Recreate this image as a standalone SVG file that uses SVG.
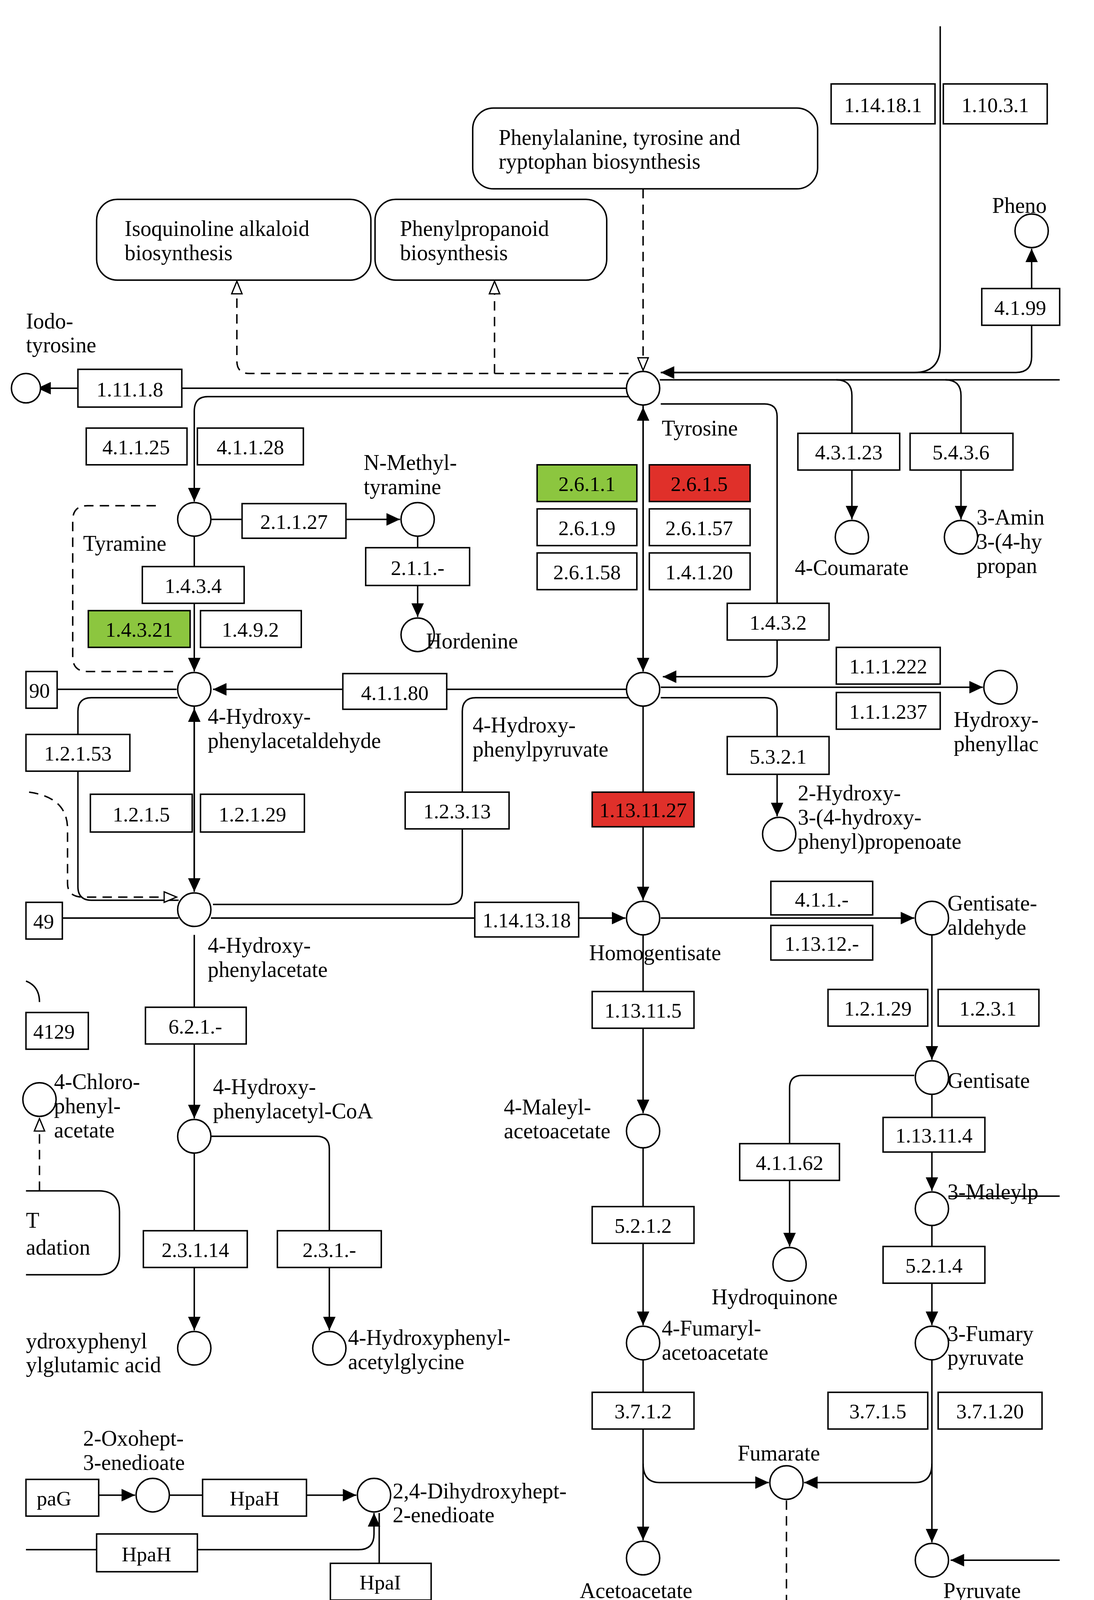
<svg xmlns="http://www.w3.org/2000/svg" width="2800" height="4168" viewBox="0 0 2800 4168">
<style>
.b{fill:#fff;stroke:#000;stroke-width:1.4}
.g{fill:#8cc63f;stroke:#000;stroke-width:1.4}
.r{fill:#e0302a;stroke:#000;stroke-width:1.4}
.c{fill:#fff;stroke:#000;stroke-width:1.4}
.l{fill:none;stroke:#000;stroke-width:1.4}
.d{fill:none;stroke:#000;stroke-width:1.4;stroke-dasharray:9,6}
.m{fill:#fff;stroke:#000;stroke-width:1.4}
text{font-family:"Liberation Serif",serif;font-size:21px;fill:#000}
.t{text-anchor:middle;font-size:20px}
</style>
<defs>
<marker id="a" markerUnits="userSpaceOnUse" markerWidth="14" markerHeight="12" refX="13" refY="6" orient="auto"><path d="M0,0L13,6L0,12z" fill="#000"/></marker>
<marker id="o" markerUnits="userSpaceOnUse" markerWidth="14" markerHeight="12" refX="13" refY="6" orient="auto"><path d="M1,1L13,6L1,11z" fill="#fff" stroke="#000" stroke-width="1.2"/></marker>
</defs>
<rect width="2800" height="4168" fill="#fff"/>
<g transform="scale(2.659 2.686)">
<g id="connectors">
<path class="l" d="M905,25V330Q905,355 880,355H636" marker-end="url(#a)"/>
<path class="l" d="M993,310V340Q993,355 978,355H636"/>
<path class="l" d="M993,275V237" marker-end="url(#a)"/>
<path class="d" d="M619,180V353" marker-end="url(#o)"/>
<path class="d" d="M605,356H240Q228,356 228,344V268" marker-end="url(#o)"/>
<path class="d" d="M476,356V268" marker-end="url(#o)"/>
<path class="l" d="M603,370H36" marker-end="url(#a)"/>
<path class="l" d="M635,362H1020"/>
<path class="l" d="M605,378H200Q187,378 187,392V478" marker-end="url(#a)"/>
<path class="l" d="M203,495H385" marker-end="url(#a)"/>
<path class="l" d="M402,511V588" marker-end="url(#a)"/>
<path class="d" d="M150,482H84Q70,482 70,496V626Q70,640 84,640H172"/>
<path class="l" d="M187,511V640" marker-end="url(#a)"/>
<path class="l" d="M55,657H170"/>
<path class="l" d="M603,657H205" marker-end="url(#a)"/>
<path class="l" d="M619,386V640" marker-end="url(#a)"/>
<path class="l" d="M619,640V388" marker-end="url(#a)"/>
<path class="l" d="M636,385H736Q748,385 748,397V633Q748,645 736,645H638" marker-end="url(#a)"/>
<path class="l" d="M805,362Q820,362 820,377V495" marker-end="url(#a)"/>
<path class="l" d="M910,362Q925,362 925,377V495" marker-end="url(#a)"/>
<path class="l" d="M636,655H946" marker-end="url(#a)"/>
<path class="l" d="M636,665H736Q748,665 748,677V778" marker-end="url(#a)"/>
<path class="l" d="M605,665H458Q445,665 445,678V850Q445,862 432,862H205"/>
<path class="l" d="M187,673V850" marker-end="url(#a)"/>
<path class="l" d="M187,850V675" marker-end="url(#a)"/>
<path class="l" d="M171,665H88Q75,665 75,678V845Q75,858 88,858H172"/>
<path class="d" d="M28,755Q65,760 65,790V842Q65,855 80,855H170" marker-end="url(#o)"/>
<path class="l" d="M60,875H172"/>
<path class="l" d="M203,875H602" marker-end="url(#a)"/>
<path class="l" d="M619,673V858" marker-end="url(#a)"/>
<path class="l" d="M636,875H880" marker-end="url(#a)"/>
<path class="l" d="M897,891V1010" marker-end="url(#a)"/>
<path class="l" d="M619,891V1061" marker-end="url(#a)"/>
<path class="l" d="M880,1025H772Q760,1025 760,1037V1188" marker-end="url(#a)"/>
<path class="l" d="M897,1043V1135" marker-end="url(#a)"/>
<path class="l" d="M913,1140H1020"/>
<path class="l" d="M897,1168V1263" marker-end="url(#a)"/>
<path class="l" d="M619,1094V1263" marker-end="url(#a)"/>
<path class="l" d="M619,1296V1468" marker-end="url(#a)"/>
<path class="l" d="M619,1395Q619,1413 635,1413H740" marker-end="url(#a)"/>
<path class="l" d="M897,1296V1470" marker-end="url(#a)"/>
<path class="l" d="M897,1395Q897,1413 881,1413H774" marker-end="url(#a)"/>
<path class="d" d="M757,1430V1552"/>
<path class="l" d="M1020,1487H915" marker-end="url(#a)"/>
<path class="l" d="M187,891V1066" marker-end="url(#a)"/>
<path class="d" d="M38,1135V1066" marker-end="url(#o)"/>
<path class="l" d="M187,1099V1268" marker-end="url(#a)"/>
<path class="l" d="M203,1083H305Q317,1083 317,1095V1268" marker-end="url(#a)"/>
<path class="l" d="M95,1425H130" marker-end="url(#a)"/>
<path class="l" d="M163,1425H343" marker-end="url(#a)"/>
<path class="l" d="M25,1477H345Q360,1477 360,1462V1442" marker-end="url(#a)"/>
<path class="l" d="M365,1442V1540M355,1540H375"/>
</g>
<g id="maps">
<rect class="b" x="455" y="103" width="332" height="77" rx="20"/>
<text x="480" y="138">Phenylalanine, tyrosine and</text><text x="480" y="161">ryptophan biosynthesis</text>
<rect class="b" x="93" y="190" width="264" height="77" rx="20"/>
<text x="120" y="225">Isoquinoline alkaloid</text><text x="120" y="248">biosynthesis</text>
<rect class="b" x="361" y="190" width="223" height="77" rx="20"/>
<text x="385" y="225">Phenylpropanoid</text><text x="385" y="248">biosynthesis</text>
<path class="b" d="M25,1135H95Q115,1135 115,1155V1195Q115,1215 95,1215H25"/>
<text x="25" y="1170">T</text><text x="25" y="1196">adation</text>
<path class="l" d="M25,935Q38,940 38,955"/>
</g>
<g id="enzymes">
<rect class="b" x="800" y="80" width="100" height="38"/><text class="t" x="850" y="107">1.14.18.1</text>
<rect class="b" x="908" y="80" width="100" height="38"/><text class="t" x="958" y="107">1.10.3.1</text>
<rect class="b" x="945" y="275" width="75" height="35"/><text class="t" x="982" y="300">4.1.99</text>
<rect class="b" x="75" y="352" width="100" height="36"/><text class="t" x="125" y="378">1.11.1.8</text>
<rect class="b" x="83" y="408" width="97" height="35"/><text class="t" x="131" y="433">4.1.1.25</text>
<rect class="b" x="190" y="408" width="102" height="35"/><text class="t" x="241" y="433">4.1.1.28</text>
<rect class="b" x="233" y="480" width="100" height="33"/><text class="t" x="283" y="504">2.1.1.27</text>
<rect class="b" x="352" y="522" width="100" height="36"/><text class="t" x="402" y="548">2.1.1.-</text>
<rect class="b" x="137" y="540" width="98" height="35"/><text class="t" x="186" y="565">1.4.3.4</text>
<rect class="g" x="85" y="582" width="98" height="35"/><text class="t" x="134" y="607">1.4.3.21</text>
<rect class="b" x="193" y="582" width="97" height="35"/><text class="t" x="241" y="607">1.4.9.2</text>
<rect class="b" x="25" y="640" width="30" height="35"/><text class="t" x="38" y="665">90</text>
<rect class="b" x="330" y="642" width="100" height="34"/><text class="t" x="380" y="667">4.1.1.80</text>
<rect class="g" x="517" y="443" width="96" height="35"/><text class="t" x="565" y="468">2.6.1.1</text>
<rect class="r" x="625" y="443" width="97" height="35"/><text class="t" x="673" y="468">2.6.1.5</text>
<rect class="b" x="517" y="485" width="96" height="35"/><text class="t" x="565" y="510">2.6.1.9</text>
<rect class="b" x="625" y="485" width="97" height="35"/><text class="t" x="673" y="510">2.6.1.57</text>
<rect class="b" x="517" y="527" width="96" height="35"/><text class="t" x="565" y="552">2.6.1.58</text>
<rect class="b" x="625" y="527" width="97" height="35"/><text class="t" x="673" y="552">1.4.1.20</text>
<rect class="b" x="700" y="575" width="98" height="35"/><text class="t" x="749" y="600">1.4.3.2</text>
<rect class="b" x="768" y="413" width="98" height="35"/><text class="t" x="817" y="438">4.3.1.23</text>
<rect class="b" x="876" y="413" width="99" height="35"/><text class="t" x="925" y="438">5.4.3.6</text>
<rect class="b" x="805" y="617" width="100" height="35"/><text class="t" x="855" y="642">1.1.1.222</text>
<rect class="b" x="805" y="660" width="100" height="35"/><text class="t" x="855" y="685">1.1.1.237</text>
<rect class="b" x="700" y="702" width="98" height="36"/><text class="t" x="749" y="728">5.3.2.1</text>
<rect class="b" x="25" y="700" width="100" height="35"/><text class="t" x="75" y="725">1.2.1.53</text>
<rect class="b" x="87" y="757" width="98" height="36"/><text class="t" x="136" y="783">1.2.1.5</text>
<rect class="b" x="193" y="757" width="100" height="36"/><text class="t" x="243" y="783">1.2.1.29</text>
<rect class="b" x="390" y="755" width="100" height="35"/><text class="t" x="440" y="780">1.2.3.13</text>
<rect class="r" x="570" y="755" width="98" height="33"/><text class="t" x="619" y="779">1.13.11.27</text>
<rect class="b" x="25" y="860" width="35" height="35"/><text class="t" x="42" y="885">49</text>
<rect class="b" x="457" y="860" width="100" height="33"/><text class="t" x="507" y="884">1.14.13.18</text>
<rect class="b" x="742" y="840" width="98" height="32"/><text class="t" x="791" y="864">4.1.1.-</text>
<rect class="b" x="742" y="882" width="98" height="33"/><text class="t" x="791" y="906">1.13.12.-</text>
<rect class="b" x="797" y="943" width="96" height="35"/><text class="t" x="845" y="968">1.2.1.29</text>
<rect class="b" x="903" y="943" width="97" height="35"/><text class="t" x="951" y="968">1.2.3.1</text>
<rect class="b" x="570" y="945" width="98" height="35"/><text class="t" x="619" y="970">1.13.11.5</text>
<rect class="b" x="140" y="960" width="97" height="35"/><text class="t" x="188" y="985">6.2.1.-</text>
<rect class="b" x="25" y="965" width="60" height="35"/><text class="t" x="52" y="990">4129</text>
<rect class="b" x="850" y="1065" width="98" height="33"/><text class="t" x="899" y="1089">1.13.11.4</text>
<rect class="b" x="712" y="1090" width="96" height="35"/><text class="t" x="760" y="1115">4.1.1.62</text>
<rect class="b" x="570" y="1150" width="98" height="35"/><text class="t" x="619" y="1175">5.2.1.2</text>
<rect class="b" x="138" y="1173" width="100" height="35"/><text class="t" x="188" y="1198">2.3.1.14</text>
<rect class="b" x="267" y="1173" width="100" height="35"/><text class="t" x="317" y="1198">2.3.1.-</text>
<rect class="b" x="850" y="1188" width="98" height="35"/><text class="t" x="899" y="1213">5.2.1.4</text>
<rect class="b" x="570" y="1327" width="98" height="35"/><text class="t" x="619" y="1352">3.7.1.2</text>
<rect class="b" x="797" y="1327" width="96" height="35"/><text class="t" x="845" y="1352">3.7.1.5</text>
<rect class="b" x="903" y="1327" width="100" height="35"/><text class="t" x="953" y="1352">3.7.1.20</text>
<rect class="b" x="25" y="1410" width="70" height="35"/><text class="t" x="52" y="1435">paG</text>
<rect class="b" x="195" y="1410" width="100" height="35"/><text class="t" x="245" y="1435">HpaH</text>
<rect class="b" x="93" y="1462" width="97" height="36"/><text class="t" x="141" y="1488">HpaH</text>
<rect class="b" x="318" y="1490" width="97" height="35"/><text class="t" x="366" y="1515">HpaI</text>
</g>
<g id="compounds">
<circle class="c" cx="993" cy="220" r="16"/><text x="955" y="203">Pheno</text>
<circle class="c" cx="25" cy="370" r="14"/><text x="25" y="313">Iodo-</text><text x="25" y="336">tyrosine</text>
<circle class="c" cx="619" cy="370" r="16"/><text x="637" y="415">Tyrosine</text>
<circle class="c" cx="187" cy="495" r="16"/><text x="80" y="525">Tyramine</text>
<circle class="c" cx="402" cy="495" r="16"/><text x="350" y="448">N-Methyl-</text><text x="350" y="471">tyramine</text>
<circle class="c" cx="402" cy="605" r="16"/><text x="410" y="618">Hordenine</text>
<circle class="c" cx="820" cy="512" r="16"/><text x="765" y="548">4-Coumarate</text>
<circle class="c" cx="925" cy="512" r="16"/><text x="940" y="500">3-Amin</text><text x="940" y="523">3-(4-hy</text><text x="940" y="546">propan</text>
<circle class="c" cx="187" cy="657" r="16"/><text x="200" y="690">4-Hydroxy-</text><text x="200" y="713">phenylacetaldehyde</text>
<circle class="c" cx="619" cy="657" r="16"/><text x="455" y="698">4-Hydroxy-</text><text x="455" y="721">phenylpyruvate</text>
<circle class="c" cx="963" cy="655" r="16"/><text x="918" y="693">Hydroxy-</text><text x="918" y="716">phenyllac</text>
<circle class="c" cx="750" cy="795" r="16"/><text x="768" y="763">2-Hydroxy-</text><text x="768" y="786">3-(4-hydroxy-</text><text x="768" y="809">phenyl)propenoate</text>
<circle class="c" cx="187" cy="867" r="16"/><text x="200" y="908">4-Hydroxy-</text><text x="200" y="931">phenylacetate</text>
<circle class="c" cx="619" cy="875" r="16"/><text x="567" y="915">Homogentisate</text>
<circle class="c" cx="897" cy="875" r="16"/><text x="912" y="868">Gentisate-</text><text x="912" y="891">aldehyde</text>
<circle class="c" cx="897" cy="1027" r="16"/><text x="912" y="1037">Gentisate</text>
<circle class="c" cx="38" cy="1048" r="16"/><text x="52" y="1038">4-Chloro-</text><text x="52" y="1061">phenyl-</text><text x="52" y="1084">acetate</text>
<circle class="c" cx="187" cy="1083" r="16"/><text x="205" y="1043">4-Hydroxy-</text><text x="205" y="1066">phenylacetyl-CoA</text>
<circle class="c" cx="619" cy="1078" r="16"/><text x="485" y="1062">4-Maleyl-</text><text x="485" y="1085">acetoacetate</text>
<circle class="c" cx="897" cy="1152" r="16"/><text x="912" y="1143">3-Maleylp</text>
<circle class="c" cx="760" cy="1205" r="16"/><text x="685" y="1243">Hydroquinone</text>
<circle class="c" cx="187" cy="1285" r="16"/><text x="25" y="1285">ydroxyphenyl</text><text x="25" y="1308">ylglutamic acid</text>
<circle class="c" cx="317" cy="1285" r="16"/><text x="335" y="1282">4-Hydroxyphenyl-</text><text x="335" y="1305">acetylglycine</text>
<circle class="c" cx="619" cy="1280" r="16"/><text x="637" y="1273">4-Fumaryl-</text><text x="637" y="1296">acetoacetate</text>
<circle class="c" cx="897" cy="1280" r="16"/><text x="912" y="1278">3-Fumary</text><text x="912" y="1301">pyruvate</text>
<circle class="c" cx="757" cy="1413" r="16"/><text x="710" y="1392">Fumarate</text>
<circle class="c" cx="619" cy="1485" r="16"/><text x="558" y="1523">Acetoacetate</text>
<circle class="c" cx="897" cy="1487" r="16"/><text x="908" y="1523">Pyruvate</text>
<circle class="c" cx="147" cy="1425" r="16"/><text x="80" y="1378">2-Oxohept-</text><text x="80" y="1401">3-enedioate</text>
<circle class="c" cx="360" cy="1425" r="16"/><text x="378" y="1428">2,4-Dihydroxyhept-</text><text x="378" y="1451">2-enedioate</text>
</g>
</g>
</svg>
